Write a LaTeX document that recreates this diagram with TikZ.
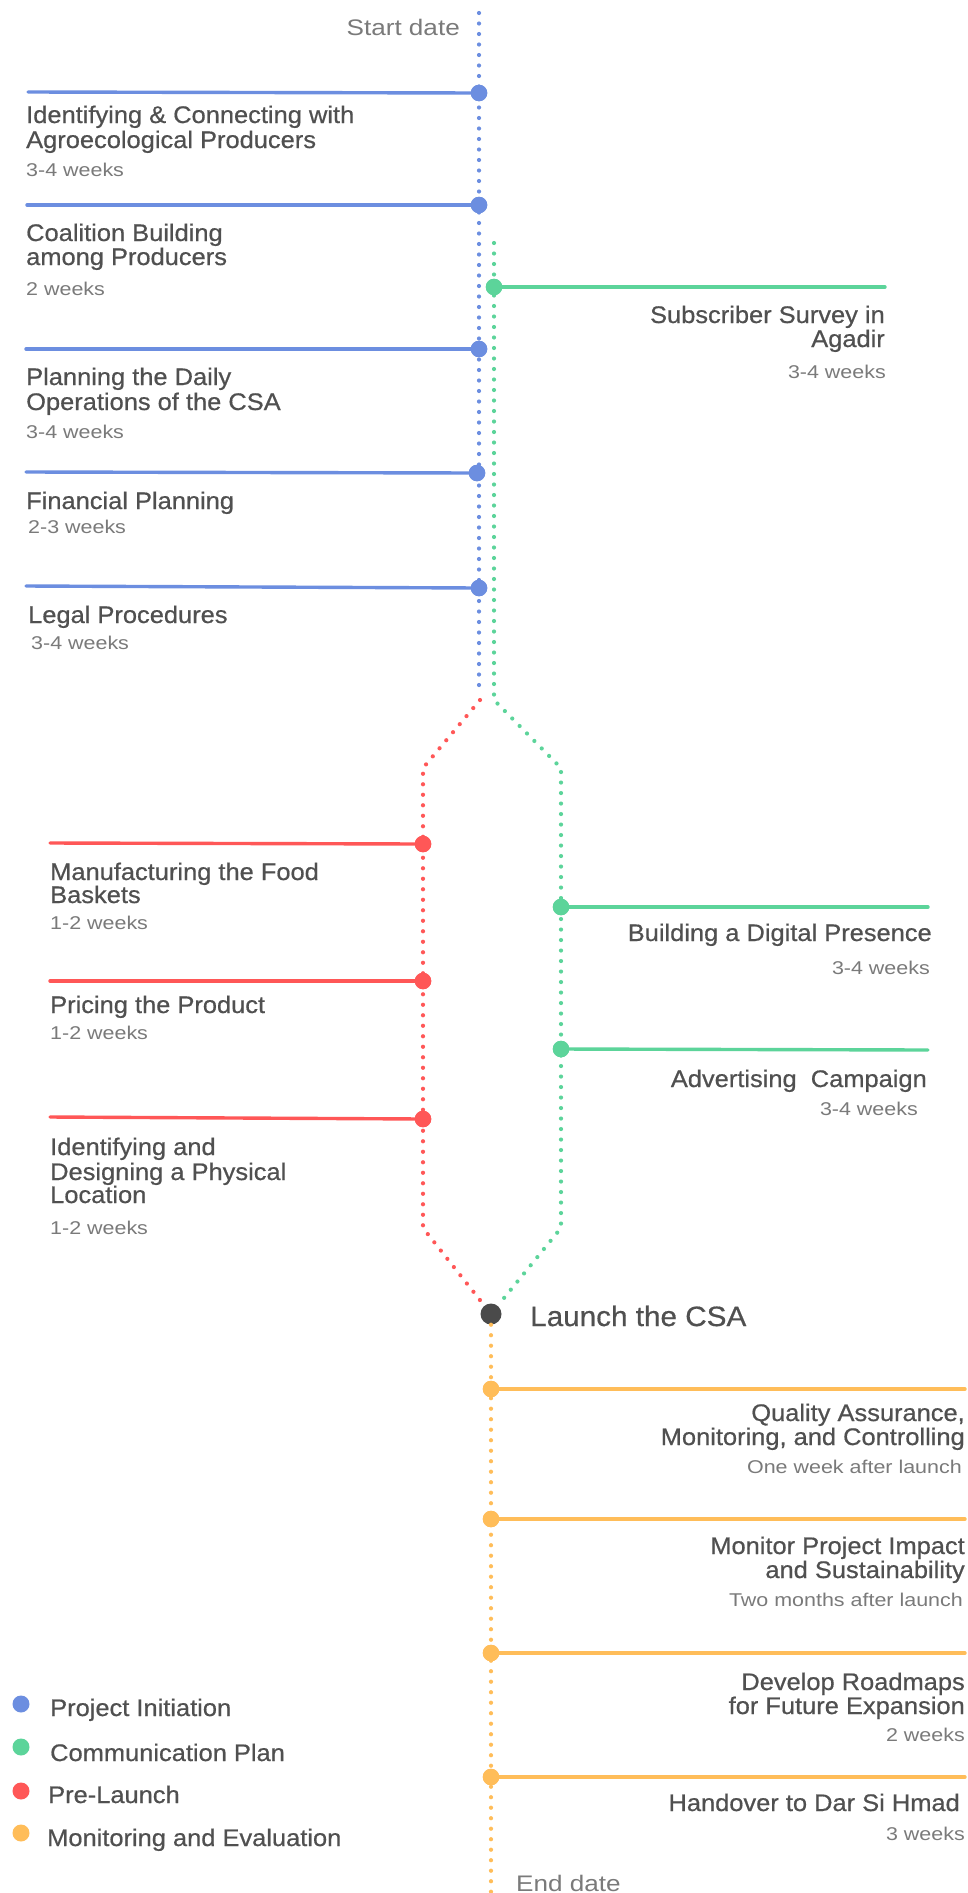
\documentclass[tikz,border=0pt]{standalone}
\usepackage{fontspec}
\newfontfamily\tfont[FakeStretch=1.06,FakeBold=0.6]{Liberation Sans}
\newfontfamily\sfont[FakeStretch=1.16]{Liberation Sans}
\definecolor{bcol}{HTML}{6C8EE0}
\definecolor{gcol}{HTML}{5CD49A}
\definecolor{rcol}{HTML}{FF5757}
\definecolor{ycol}{HTML}{FFBD59}
\definecolor{dcol}{HTML}{4A4A4A}
\definecolor{tcol}{HTML}{505050}
\definecolor{scol}{HTML}{7A7A7A}
\tikzset{
  ttl/.style={font=\tfont\fontsize{24}{26}\selectfont, text=tcol, inner sep=0pt},
  sbt/.style={font=\sfont\fontsize{18.5}{20}\selectfont, text=scol, inner sep=0pt},
  lft/.style={anchor=base west},
  rgt/.style={anchor=base east},
  evdot/.style={circle, minimum size=16.5pt, inner sep=0pt},
  hline/.style={line width=3.4pt, line cap=round},
  dline/.style={line width=4.2pt, line cap=round, dash pattern=on 0pt off 10.5pt},
  legdot/.style={circle, minimum size=17pt, inner sep=0pt},
  legtxt/.style={font=\tfont\fontsize{24}{26}\selectfont, text=tcol, inner sep=0pt, anchor=base west},
}
\begin{document}
\begin{tikzpicture}[x=1pt,y=-1pt]
\fill[white] (0,0) rectangle (968,1893);
\useasboundingbox (0,0) rectangle (968,1893);

% ---------- path coordinates ----------
\coordinate (bs) at (479,13);
\coordinate (be) at (479,693);
\coordinate (gs) at (494,243);
\coordinate (g1) at (494,700);
\coordinate (g2) at (561,768);
\coordinate (g3) at (561,1228);
\coordinate (r0) at (480,700);
\coordinate (r1) at (423,768);
\coordinate (r2) at (423,1228);
\coordinate (ye) at (491,1893);

\node[circle, fill=dcol, minimum size=21pt, inner sep=0pt] (launch) at (491,1314) {};

% ---------- dotted tracks ----------
\draw[dline, bcol] (bs) -- (be);
\draw[dline, gcol] (gs) -- (g1) -- (g2) -- (g3) -- (launch);
\draw[dline, rcol] (r0) -- (r1) -- (r2) -- (launch);
\draw[dline, ycol] (launch) -- (ye);

% ---------- start / end ----------
\node[sbt, rgt, font=\sfont\fontsize{22.5}{24}\selectfont, text=scol] (start) at (460,35) {Start date};
\node[sbt, lft, font=\sfont\fontsize{22.5}{24}\selectfont, text=scol] (end) at (516,1891) {End date};

% ---------- blue: project initiation ----------
\coordinate (b1l) at (28,92);
\coordinate (b2l) at (27,205);
\coordinate (b3l) at (26,349);
\coordinate (b4l) at (26,472);
\coordinate (b5l) at (26,586);
\node[evdot, fill=bcol] (b1) at (479,93) {};
\node[evdot, fill=bcol] (b2) at (479,205) {};
\node[evdot, fill=bcol] (b3) at (479,349) {};
\node[evdot, fill=bcol] (b4) at (477,473) {};
\node[evdot, fill=bcol] (b5) at (479,588) {};
\draw[hline, bcol] (b1l) -- (b1.center);
\draw[hline, bcol] (b2l) -- (b2.center);
\draw[hline, bcol] (b3l) -- (b3.center);
\draw[hline, bcol] (b4l) -- (b4.center);
\draw[hline, bcol] (b5l) -- (b5.center);
\node[evdot, fill=bcol] at (b1) {};
\node[evdot, fill=bcol] at (b2) {};
\node[evdot, fill=bcol] at (b3) {};
\node[evdot, fill=bcol] at (b4) {};
\node[evdot, fill=bcol] at (b5) {};

\node[ttl, lft] (b1a) at (26,123) {Identifying \& Connecting with};
\node[ttl, lft] (b1b) at (26,148) {Agroecological Producers};
\node[sbt, lft] (b1c) at (26,176) {3-4 weeks};
\node[ttl, lft] (b2a) at (26,241) {Coalition Building};
\node[ttl, lft] (b2b) at (26,265) {among Producers};
\node[sbt, lft] (b2c) at (26,295) {2 weeks};
\node[ttl, lft] (b3a) at (26,385) {Planning the Daily};
\node[ttl, lft] (b3b) at (26,410) {Operations of the CSA};
\node[sbt, lft] (b3c) at (26,438) {3-4 weeks};
\node[ttl, lft] (b4a) at (26,509) {Financial Planning};
\node[sbt, lft] (b4c) at (28,533) {2-3 weeks};
\node[ttl, lft] (b5a) at (28,623) {Legal Procedures};
\node[sbt, lft] (b5c) at (31,649) {3-4 weeks};

% ---------- green: communication plan ----------
\coordinate (g1r) at (885,287);
\coordinate (g2r) at (928,907);
\coordinate (g3r) at (928,1050);
\node[evdot, fill=gcol] (gA) at (494,287) {};
\node[evdot, fill=gcol] (gB) at (561,907) {};
\node[evdot, fill=gcol] (gC) at (561,1049) {};
\draw[hline, gcol] (gA.center) -- (g1r);
\draw[hline, gcol] (gB.center) -- (g2r);
\draw[hline, gcol] (gC.center) -- (g3r);
\node[evdot, fill=gcol] at (gA) {};
\node[evdot, fill=gcol] at (gB) {};
\node[evdot, fill=gcol] at (gC) {};

\node[ttl, rgt] (gAa) at (885,323) {Subscriber Survey in};
\node[ttl, rgt] (gAb) at (885,347) {Agadir};
\node[sbt, rgt] (gAc) at (886,378) {3-4 weeks};
\node[ttl, rgt] (gBa) at (932,941) {Building a Digital Presence};
\node[sbt, rgt] (gBc) at (930,974) {3-4 weeks};
\node[ttl, rgt] (gCa) at (927,1087) {Advertising\ \ Campaign};
\node[sbt, rgt] (gCc) at (918,1115) {3-4 weeks};

% ---------- red: pre-launch ----------
\coordinate (r1l) at (50,843);
\coordinate (r2l) at (50,981);
\coordinate (r3l) at (50,1117);
\node[evdot, fill=rcol] (rA) at (423,844) {};
\node[evdot, fill=rcol] (rB) at (423,981) {};
\node[evdot, fill=rcol] (rC) at (423,1119) {};
\draw[hline, rcol] (r1l) -- (rA.center);
\draw[hline, rcol] (r2l) -- (rB.center);
\draw[hline, rcol] (r3l) -- (rC.center);
\node[evdot, fill=rcol] at (rA) {};
\node[evdot, fill=rcol] at (rB) {};
\node[evdot, fill=rcol] at (rC) {};

\node[ttl, lft] (rAa) at (50,880) {Manufacturing the Food};
\node[ttl, lft] (rAb) at (50,903) {Baskets};
\node[sbt, lft] (rAc) at (50,929) {1-2 weeks};
\node[ttl, lft] (rBa) at (50,1013) {Pricing the Product};
\node[sbt, lft] (rBc) at (50,1039) {1-2 weeks};
\node[ttl, lft] (rCa) at (50,1155) {Identifying and};
\node[ttl, lft] (rCb) at (50,1180) {Designing a Physical};
\node[ttl, lft] (rCc) at (50,1203) {Location};
\node[sbt, lft] (rCd) at (50,1234) {1-2 weeks};

% ---------- launch ----------
\node[inner sep=0pt, anchor=base west, font=\tfont\fontsize{28}{30}\selectfont, text=tcol] (launchtxt) at (530,1326) {Launch the CSA};

% ---------- yellow: monitoring and evaluation ----------
\coordinate (y1r) at (965,1389);
\coordinate (y2r) at (965,1519);
\coordinate (y3r) at (965,1653);
\coordinate (y4r) at (965,1777);
\node[evdot, fill=ycol] (yA) at (491,1389) {};
\node[evdot, fill=ycol] (yB) at (491,1519) {};
\node[evdot, fill=ycol] (yC) at (491,1653) {};
\node[evdot, fill=ycol] (yD) at (491,1777) {};
\draw[hline, ycol] (yA.center) -- (y1r);
\draw[hline, ycol] (yB.center) -- (y2r);
\draw[hline, ycol] (yC.center) -- (y3r);
\draw[hline, ycol] (yD.center) -- (y4r);
\node[evdot, fill=ycol] at (yA) {};
\node[evdot, fill=ycol] at (yB) {};
\node[evdot, fill=ycol] at (yC) {};
\node[evdot, fill=ycol] at (yD) {};

\node[ttl, rgt] (yAa) at (965,1421) {Quality Assurance,};
\node[ttl, rgt] (yAb) at (965,1445) {Monitoring, and Controlling};
\node[sbt, rgt] (yAc) at (962,1473) {One week after launch};
\node[ttl, rgt] (yBa) at (965,1554) {Monitor Project Impact};
\node[ttl, rgt] (yBb) at (965,1578) {and Sustainability};
\node[sbt, rgt] (yBc) at (963,1606) {Two months after launch};
\node[ttl, rgt] (yCa) at (965,1690) {Develop Roadmaps};
\node[ttl, rgt] (yCb) at (965,1714) {for Future Expansion};
\node[sbt, rgt] (yCc) at (965,1741) {2 weeks};
\node[ttl, rgt] (yDa) at (960,1811) {Handover to Dar Si Hmad};
\node[sbt, rgt] (yDc) at (965,1840) {3 weeks};

% ---------- legend ----------
\node[legdot, fill=bcol] (l1) at (21,1704) {};
\node[legdot, fill=gcol] (l2) at (21,1747) {};
\node[legdot, fill=rcol] (l3) at (21,1791) {};
\node[legdot, fill=ycol] (l4) at (21,1833) {};
\node[legtxt] (l1t) at (50,1716) {Project Initiation};
\node[legtxt] (l2t) at (50,1761) {Communication Plan};
\node[legtxt] (l3t) at (48,1803) {Pre-Launch};
\node[legtxt] (l4t) at (47,1846) {Monitoring and Evaluation};
\end{tikzpicture}
\end{document}
